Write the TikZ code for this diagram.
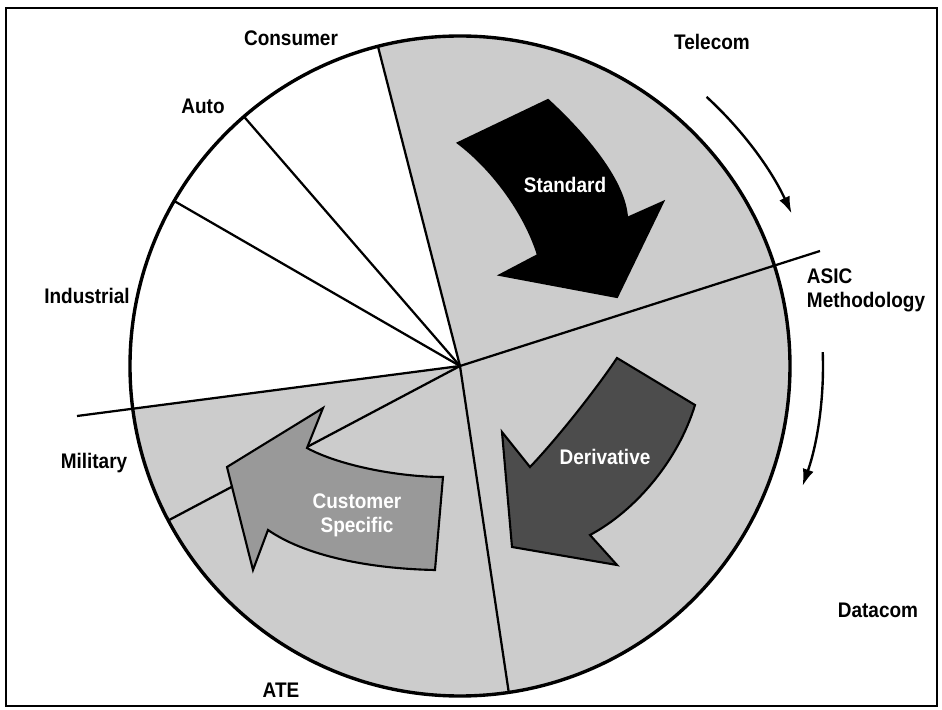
\documentclass[tikz,border=0pt]{standalone}
\usepackage{fontspec}
\setmainfont{Liberation Sans}[FakeStretch=0.9]
\usetikzlibrary{arrows.meta}
\definecolor{pieshade}{gray}{0.8}
\tikzset{
  seglabel/.style={font=\fontsize{15}{17}\selectfont\bfseries},
  flowlabel/.style={font=\fontsize{15}{17}\selectfont\bfseries, text=white, align=center},
  flowarrow/.style={draw=black, line width=1.5pt, line join=miter},
  spoke/.style={line width=1.6pt},
  turn/.style={line width=1.7pt, -{Latex[length=12pt,width=8pt]}},
}
\begin{document}
\begin{tikzpicture}[x=0.025cm, y=0.025cm]
  \useasboundingbox (-460,366) rectangle (482,-344);
  \draw[line width=1.5pt] (-454,358) rectangle (477,-340);

  \fill[pieshade] (0,0) -- (187.5:330) arc[start angle=187.5, end angle=464.4, radius=330] -- cycle;
  \foreach \a in {104.4,130.9,150,207.9,278.5}
    \draw[spoke] (0,0) -- (\a:330);
  \draw[spoke] (-383,-50) -- (0,0) -- (360,115);
  \draw[line width=2.4pt] (0,0) circle[radius=330];

  \draw[turn] (47.5:365) arc[start angle=47.5, end angle=24.7, radius=365];
  \draw[turn] (2.2:363) arc[start angle=2.2, end angle=-19.3, radius=363];

  \filldraw[flowarrow, fill=black] (-2,223) -- (88,266) .. controls (125,232) and (165,185) .. (167,148)
    -- (203,164) -- (157,69) -- (40,91) -- (78,111) .. controls (66,150) and (35,195) .. (-2,223) -- cycle;
  \filldraw[flowarrow, fill=black!70] (157,8) -- (235,-39) .. controls (218,-95) and (175,-145) .. (130,-169)
    -- (157,-199) -- (52,-181) -- (42,-66) -- (70,-101) .. controls (95,-75) and (135,-25) .. (157,8) -- cycle;
  \filldraw[flowarrow, fill=black!40] (-233,-101) -- (-137,-42) -- (-153,-82) .. controls (-120,-100) and (-60,-111) .. (-17,-111)
    -- (-25,-204) .. controls (-80,-203) and (-150,-193) .. (-192,-164) -- (-207,-204) -- cycle;

  \node[flowlabel] (standard) at (105,181) {Standard};
  \node[flowlabel] (derivative) at (145,-91) {Derivative};
  \node[flowlabel] (custom) at (-103,-149) {Customer\\Specific};

  \node[seglabel] (consumer) at (-169,328) {Consumer};
  \node[seglabel] (telecom) at (252,324) {Telecom};
  \node[seglabel] (auto) at (-257,260) {Auto};
  \node[seglabel] (industrial) at (-373,70) {Industrial};
  \node[seglabel, anchor=west, align=left] (asic) at (342,76) {ASIC\\Methodology};
  \node[seglabel] (military) at (-366,-97) {Military};
  \node[seglabel] (datacom) at (418,-244) {Datacom};
  \node[seglabel] (ate) at (-179,-324) {ATE};
\end{tikzpicture}
\end{document}
